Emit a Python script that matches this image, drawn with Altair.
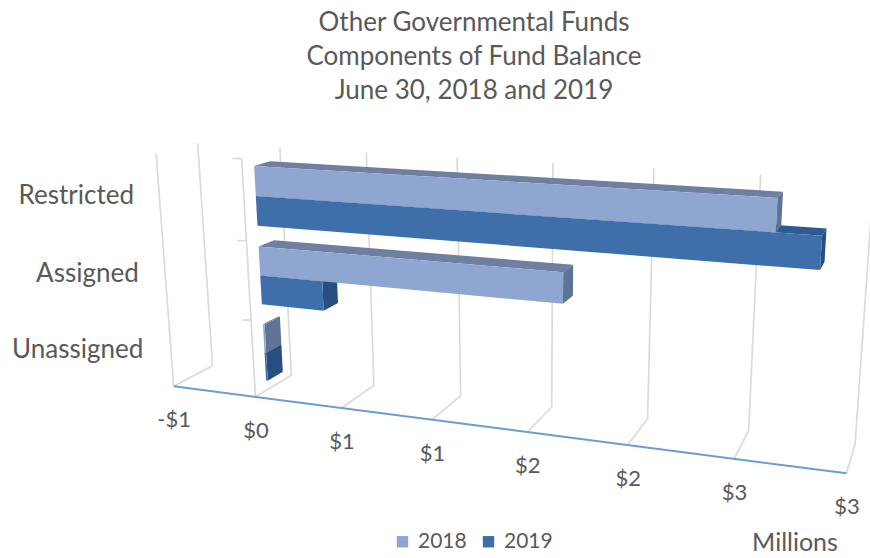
import altair as alt
import numpy as np

# Chart values, $ millions
categories = ["Unassigned", "Assigned", "Restricted"]
fund_2018 = [0.01, 1.64, 2.62]
fund_2019 = [0.01, 0.36, 2.82]
years = ["2018", "2019"]
ticks = [-0.5, 0.0, 0.5, 1.0, 1.5, 2.0, 2.5, 3.0]
tick_labels = ["-$1", "$0", "$1", "$1", "$2", "$2", "$3", "$3"]
title_lines = ["Other Governmental Funds", "Components of Fund Balance", "June 30, 2018 and 2019"]

# Camera anchors for the 3-D box: (value, height in rows, depth) -> page position
anchors = [
    (-0.5, 0, 0, 173, 386), (0, 0, 0, 255, 397), (0.5, 0, 0, 343, 408), (1, 0, 0, 432, 419),
    (1.5, 0, 0, 528, 432), (2, 0, 0, 628, 445), (2.5, 0, 0, 734, 459), (3, 0, 0, 846, 473),
    (-0.5, 0, 1, 213, 367), (0, 0, 1, 291, 375), (0.5, 0, 1, 373, 385), (1.5, 0, 1, 552, 405),
    (2, 0, 1, 648, 417), (2.5, 0, 1, 748, 432), (3, 0, 1, 855, 447),
    (-0.5, 3, 1, 198, 143), (0, 3, 1, 280, 148), (0.5, 3, 1, 367, 153), (1.5, 3, 1, 553, 163),
    (2, 3, 1, 653, 168), (2.5, 3, 1, 761, 174), (-0.5, 3, 0, 155, 155), (0, 3, 0, 242, 158),
]


def fit_camera(points):
    rows, rhs = [], []
    for v, h, d, x, y in points:
        rows.append([v, h, d, 1, 0, 0, 0, 0, -x * v, -x * h, -x * d])
        rhs.append(x)
        rows.append([0, 0, 0, 0, v, h, d, 1, -y * v, -y * h, -y * d])
        rhs.append(y)
    sol = np.linalg.lstsq(np.array(rows, float), np.array(rhs, float), rcond=None)[0]
    return np.append(sol, 1.0).reshape(3, 4)


CAMERA = fit_camera(anchors)


def project(v, h, d):
    px, py, pw = CAMERA @ np.array([v, h, d, 1.0])
    return [round(float(px / pw), 2), round(float(py / pw), 2)]


# Bar boxes: depth span and vertical extents inside each category row
BAR_FRONT, BAR_BACK = 0.30, 0.72
BAR_BOTTOM, BAR_SPLIT, BAR_TOP = 0.13, 0.50, 0.87


def face(shade, corners):
    ring = [project(*c) for c in corners]
    ring.append(ring[0])
    return {
        "type": "Feature",
        "properties": {"shade": shade},
        "geometry": {"type": "Polygon", "coordinates": [ring]},
    }


def box_faces(year, value, row, low, high):
    h0, h1 = row + low, row + high
    d0, d1 = BAR_FRONT, BAR_BACK
    return [
        face(year + " top", [(0, h1, d0), (value, h1, d0), (value, h1, d1), (0, h1, d1)]),
        face(year + " side", [(value, h0, d0), (value, h0, d1), (value, h1, d1), (value, h1, d0)]),
        face(year, [(0, h0, d0), (value, h0, d0), (value, h1, d0), (0, h1, d0)]),
    ]


features = []
for row, (v18, v19) in enumerate(zip(fund_2018, fund_2019)):
    features += box_faces("2019", v19, row, BAR_BOTTOM, BAR_SPLIT)
    features += box_faces("2018", v18, row, BAR_SPLIT, BAR_TOP)

shade_domain = ["2018", "2019", "2018 top", "2018 side", "2019 top", "2019 side"]
shade_range = ["#8fa7d0", "#3f6fab", "#6f7fa2", "#5f7396", "#2d5a90", "#264e7f"]

bars = alt.Chart(alt.Data(values=features)).mark_geoshape(strokeWidth=0).encode(
    color=alt.Color(
        "properties.shade:N",
        scale=alt.Scale(domain=shade_domain, range=shade_range),
        legend=alt.Legend(
            values=years, title=None, orient="none", legendX=392, legendY=531,
            direction="horizontal", symbolType="square", symbolSize=130,
            labelFontSize=21, labelFont="Lato", labelColor="#595959",
            columnPadding=11, labelOffset=5, symbolStrokeWidth=0,
        ),
    )
).project(type="identity", scale=1, translate=[0, 0])

# Gridlines on floor and back wall, plus the left wall and the category axis
grid_rows = []
for i, t in enumerate(ticks):
    for order, (h, d) in enumerate([(0, 0), (0, 1), (3, 1)]):
        x, y = project(t, h, d)
        grid_rows.append({"line": f"v{i}", "order": order, "x": x, "y": y})
x, y = project(ticks[0], 3, 0)
grid_rows.append({"line": "wall", "order": 0, "x": x, "y": y})
x, y = project(ticks[0], 0, 0)
grid_rows.append({"line": "wall", "order": 1, "x": x, "y": y})
for order, h in enumerate([0, 3]):
    x, y = project(0, h, 0)
    grid_rows.append({"line": "cat", "order": order, "x": x, "y": y})
for h in [1, 2, 3]:
    x, y = project(0, h, 0)
    grid_rows.append({"line": f"tick{h}", "order": 0, "x": x - 9, "y": y})
    grid_rows.append({"line": f"tick{h}", "order": 1, "x": x, "y": y})

x_pos = alt.X("x:Q", scale=alt.Scale(domain=[0, 870], nice=False), axis=None)
y_pos = alt.Y("y:Q", scale=alt.Scale(domain=[558, 0], nice=False), axis=None)

grid = alt.Chart(alt.Data(values=grid_rows)).mark_line(color="#dadada", strokeWidth=1.7).encode(
    x=x_pos, y=y_pos, detail="line:N", order="order:Q"
)

axis_rows = [
    {"order": i, "x": p[0], "y": p[1]}
    for i, p in enumerate(project(t, 0, 0) for t in (ticks[0], ticks[-1]))
]
axis_line = alt.Chart(alt.Data(values=axis_rows)).mark_line(color="#6d9ccf", strokeWidth=2).encode(
    x=x_pos, y=y_pos, order="order:Q"
)

# Value labels hang below the front floor edge
value_rows = []
for t, label in zip(ticks, tick_labels):
    x, y = project(t, 0, 0)
    value_rows.append({"x": x + 0.5, "y": y + 34, "label": label})
value_text = alt.Chart(alt.Data(values=value_rows)).mark_text(
    font="Lato", fontSize=22, color="#595959", align="center", baseline="middle"
).encode(x=x_pos, y=y_pos, text="label:N")

# Category labels sit left of the axis, drifting upward with the perspective
category_rows = []
for row, (name, lift) in enumerate(zip(categories, [9, 7, 4])):
    x, y = project(0, row + 0.5, 0)
    category_rows.append({"x": x - 110, "y": y - lift, "label": name})
category_text = alt.Chart(alt.Data(values=category_rows)).mark_text(
    font="Lato", fontSize=26, color="#595959", align="right", baseline="middle"
).encode(x=x_pos, y=y_pos, text="label:N")

unit_text = alt.Chart(alt.Data(values=[{"x": 795, "y": 543, "label": "Millions"}])).mark_text(
    font="Lato", fontSize=25, color="#595959", align="center", baseline="middle"
).encode(x=x_pos, y=y_pos, text="label:N")

chart = alt.layer(grid, axis_line, bars, value_text, category_text, unit_text).properties(
    width=870,
    height=558,
    padding=0,
    autosize=alt.AutoSizeParams(type="none"),
    background="white",
    title=alt.TitleParams(
        text=title_lines, anchor="middle", dx=39, offset=-104, fontSize=26, font="Lato",
        fontWeight="normal", color="#595959", lineHeight=34,
    ),
).configure_view(stroke=None)

chart.save("out.html", embed_options={"renderer": "svg", "actions": False})
